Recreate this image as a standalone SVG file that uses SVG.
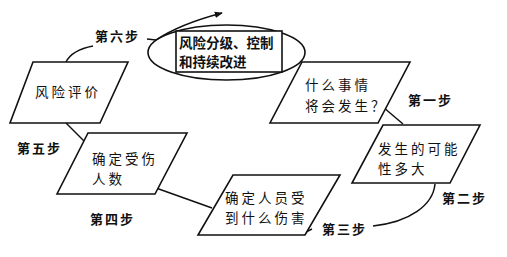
<svg xmlns="http://www.w3.org/2000/svg" width="507" height="257" viewBox="0 0 507 257">
<style>
.shape{fill:#fff;stroke:#111;stroke-width:1.6;stroke-linejoin:miter}
.line{fill:none;stroke:#111;stroke-width:1.5}
.t{font-family:"Noto Sans CJK SC","Noto Sans",sans-serif;font-size:13.5px;letter-spacing:3px;fill:#111}
.s{font-family:"Noto Sans CJK SC","Noto Sans",sans-serif;font-size:13px;letter-spacing:2px;fill:#111;font-weight:bold}
.b{font-family:"Noto Sans CJK SC","Noto Sans",sans-serif;font-size:13.5px;fill:#111;font-weight:bold}
</style>
<defs>
<marker id="arr" viewBox="0 0 10 10" refX="9" refY="5" markerWidth="8" markerHeight="8" orient="auto" markerUnits="userSpaceOnUse">
<path d="M0,1 L10,5 L0,9 Z" fill="#111"/>
</marker>
</defs>
<rect width="507" height="257" fill="#fff"/>
<g id="connectors">
<path class="line" d="M66,62 Q72,50 93,46"/>
<path class="line" d="M147,39 L156,40"/>
<path class="line" d="M156,40 Q180,24 222,13" marker-end="url(#arr)"/>
<path class="line" d="M383,107 L403,124"/>
<path class="line" d="M435,184 C433,205 410,222 373,226"/>
<path class="line" d="M304,233 L312,229"/>
<path class="line" d="M156,188 L212,208"/>
<path class="line" d="M66,123 L84,141"/>
</g>
<g id="node-improve">
<ellipse cx="226.5" cy="52.5" rx="78.5" ry="27.5" fill="none" stroke="#111" stroke-width="1.6"/>
<rect class="shape" x="176" y="31" width="106" height="41"/>
<text class="b" x="179" y="48">风险分级、控制</text>
<text class="b" x="179" y="67">和持续改进</text>
</g>
<g id="node-eval">
<polygon class="shape" points="33,62 128,62 100,123 10,123"/>
<text class="t" x="35" y="97">风险评价</text>
</g>
<g id="node-what">
<polygon class="shape" points="302,62 410,62 378,123 270,123"/>
<text class="t" x="305" y="90">什么事情</text>
<text class="t" x="305" y="111">将会发生？</text>
</g>
<g id="node-likely">
<polygon class="shape" points="383,125 480,125 450,183 352,183"/>
<text class="t" x="378" y="154">发生的可能</text>
<text class="t" x="378" y="174">性多大</text>
</g>
<g id="node-harm">
<polygon class="shape" points="233,175 340,175 305,235 198,235"/>
<text class="t" x="225" y="203">确定人员受</text>
<text class="t" x="225" y="223">到什么伤害</text>
</g>
<g id="node-count">
<polygon class="shape" points="88,133 187,133 155,194 57,194"/>
<text class="t" x="92" y="164">确定受伤</text>
<text class="t" x="92" y="184">人数</text>
</g>
<g id="labels">
<text class="s" x="95" y="41">第六步</text>
<text class="s" x="408" y="105">第一步</text>
<text class="s" x="442" y="203">第二步</text>
<text class="s" x="322" y="234">第三步</text>
<text class="s" x="90" y="224">第四步</text>
<text class="s" x="17" y="153">第五步</text>
</g>
</svg>
